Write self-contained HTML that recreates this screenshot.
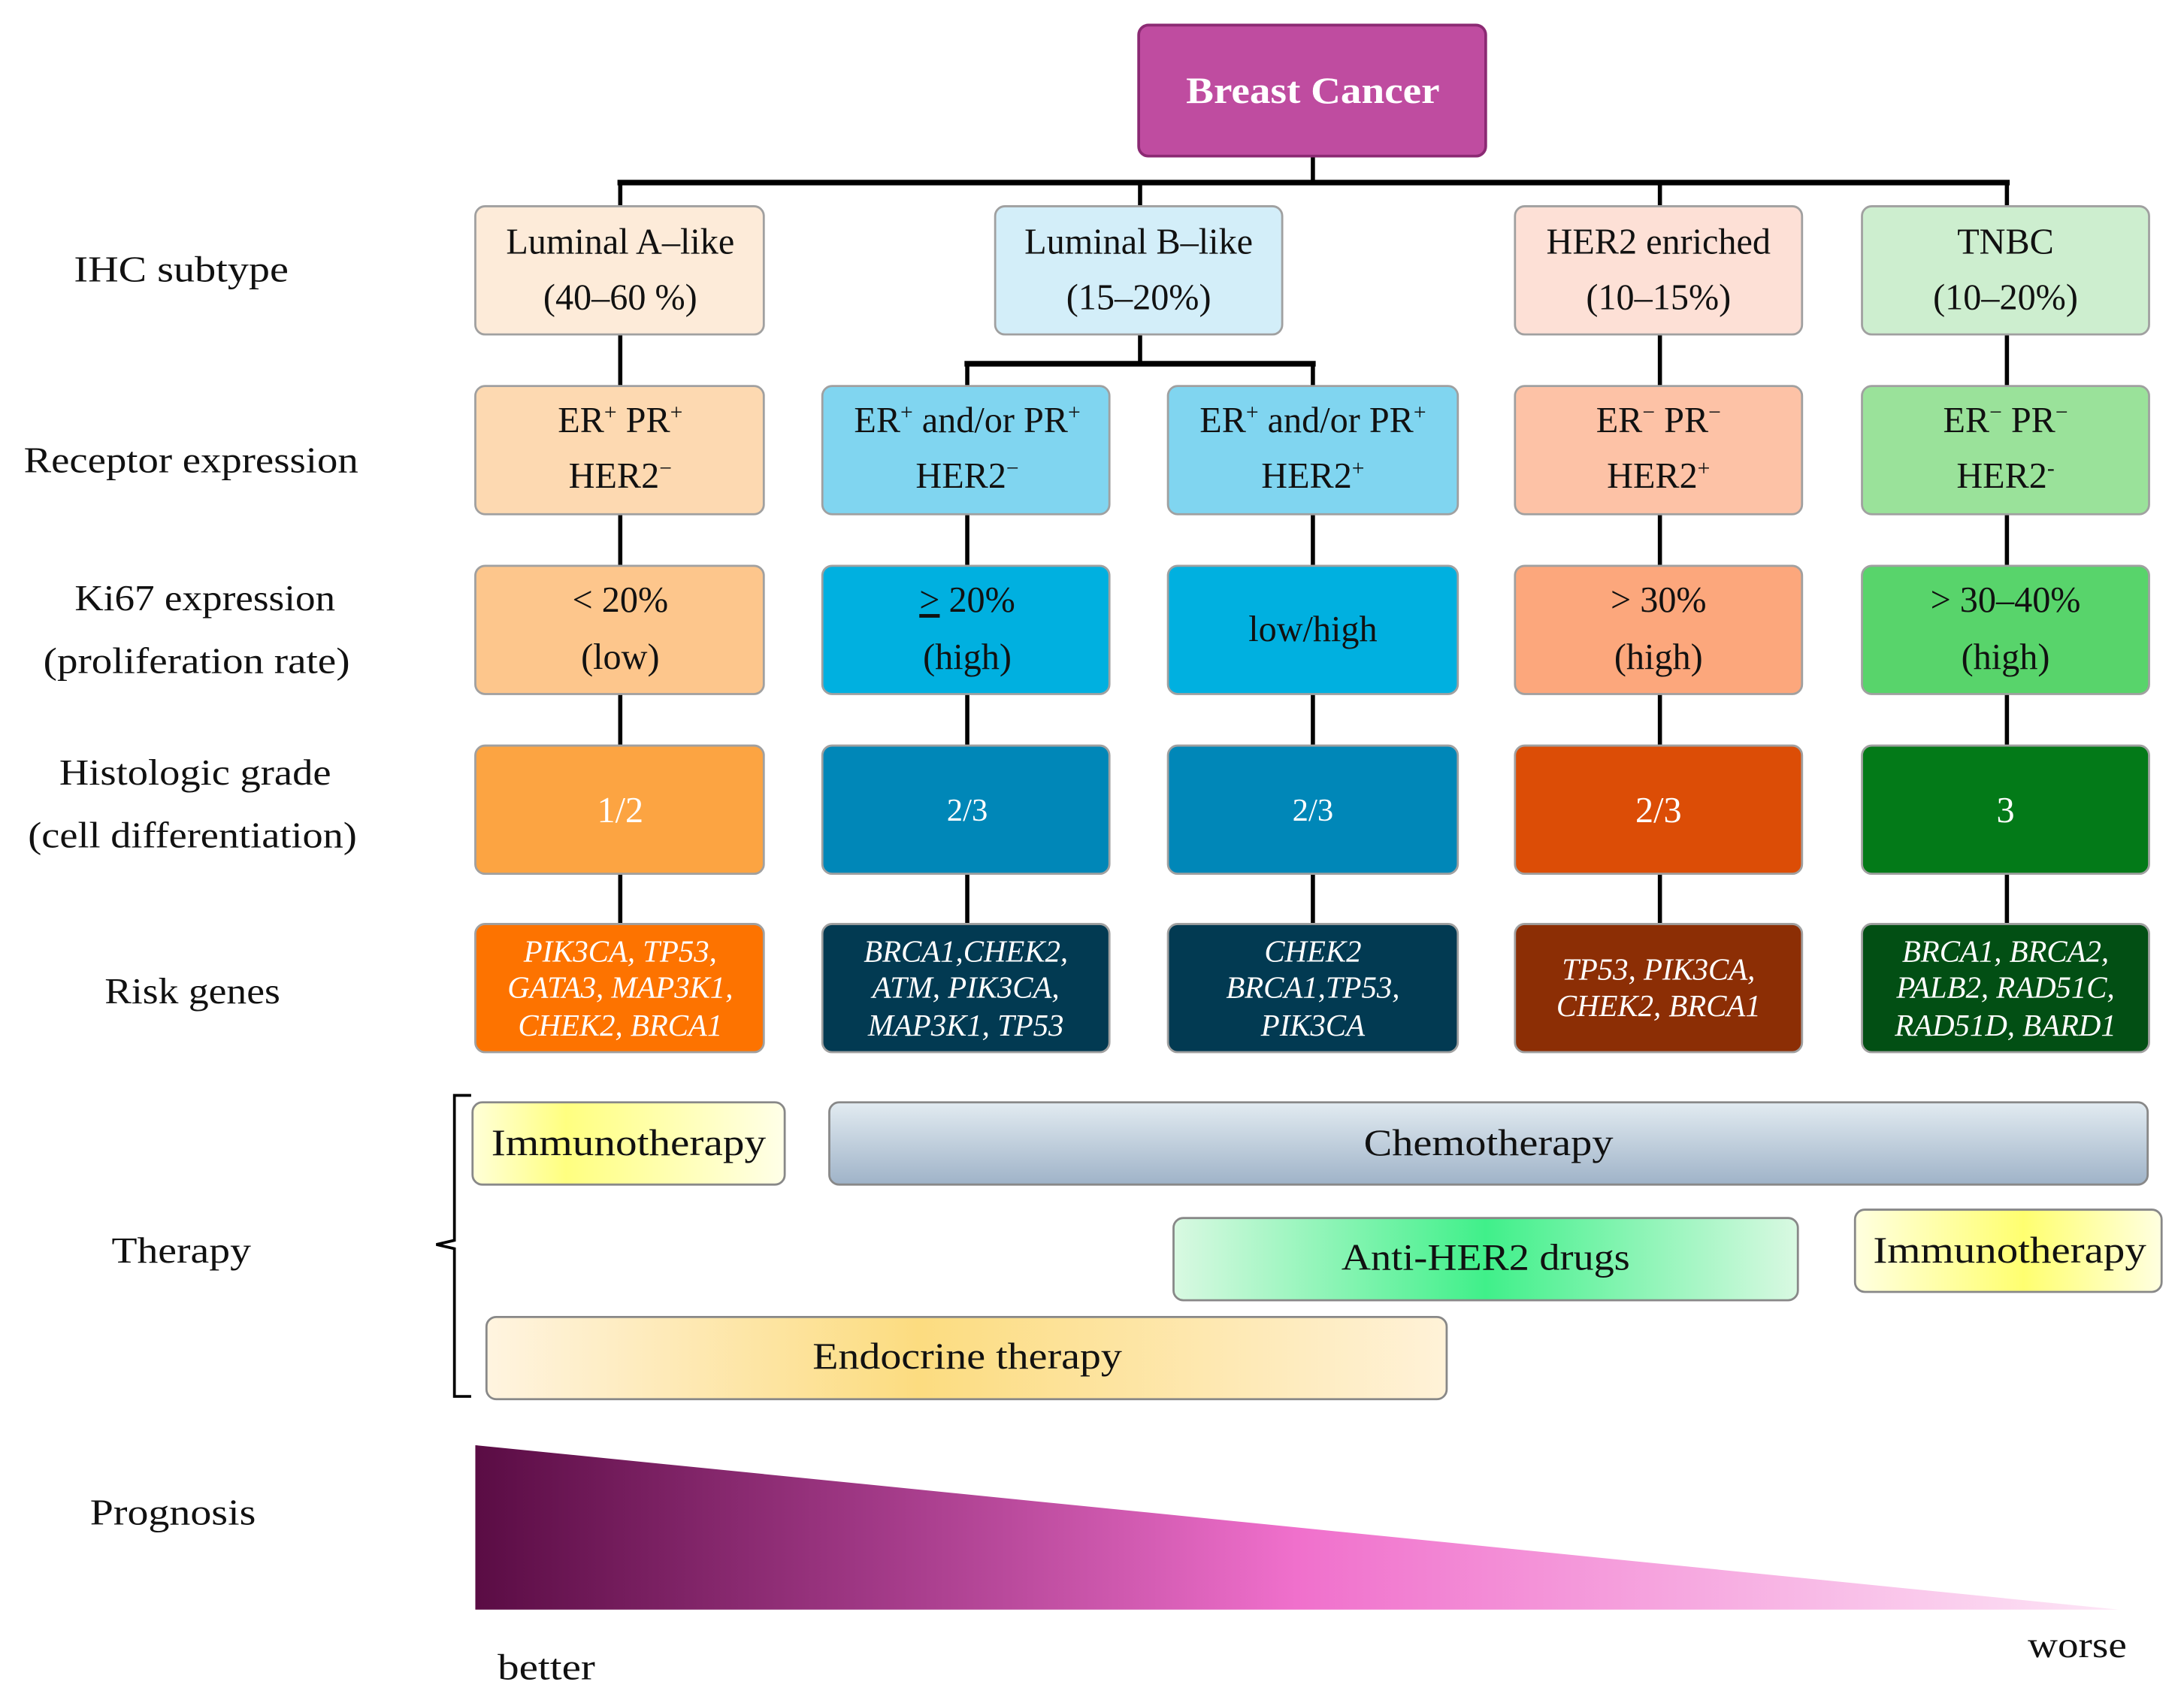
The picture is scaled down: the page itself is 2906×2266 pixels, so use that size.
<!DOCTYPE html>
<html><head><meta charset="utf-8"><style>
html,body{margin:0;padding:0;background:#fff}
svg{display:block}
text{font-family:"Liberation Serif",serif;fill:#111}
</style></head><body>
<svg width="2906" height="2266" viewBox="0 0 1567 1222" xmlns="http://www.w3.org/2000/svg">
<defs>
<linearGradient id="imm" x1="0" x2="1"><stop offset="0" stop-color="#ffffd8"/><stop offset="0.3" stop-color="#ffff80"/><stop offset="1" stop-color="#ffffe8"/></linearGradient>
<linearGradient id="imm2" x1="0" x2="1"><stop offset="0" stop-color="#ffffe0"/><stop offset="0.55" stop-color="#ffff70"/><stop offset="1" stop-color="#ffffe0"/></linearGradient>
<linearGradient id="chemo" x1="0" y1="0" x2="0" y2="1"><stop offset="0" stop-color="#e2ebf1"/><stop offset="1" stop-color="#9fb3c8"/></linearGradient>
<linearGradient id="her" x1="0" x2="1"><stop offset="0" stop-color="#d9f9e2"/><stop offset="0.5" stop-color="#40f08a"/><stop offset="1" stop-color="#d9f9e2"/></linearGradient>
<linearGradient id="endo" x1="0" x2="1"><stop offset="0" stop-color="#fff4e0"/><stop offset="0.45" stop-color="#fcdc80"/><stop offset="1" stop-color="#fff2d8"/></linearGradient>
<linearGradient id="prog" x1="0" x2="1"><stop offset="0" stop-color="#5a0c44"/><stop offset="0.25" stop-color="#a33a88"/><stop offset="0.5" stop-color="#f070cc"/><stop offset="1" stop-color="#fde6f6"/></linearGradient>
</defs>

<g stroke="#000" stroke-width="3" fill="none">
<line x1="942" y1="112" x2="942" y2="131"/>
<line x1="443" y1="131" x2="1442" y2="131" stroke-width="4"/>
<line x1="445" y1="131" x2="445" y2="148"/>
<line x1="818" y1="131" x2="818" y2="148"/>
<line x1="1191" y1="131" x2="1191" y2="148"/>
<line x1="1440" y1="131" x2="1440" y2="148"/>
<line x1="818" y1="240" x2="818" y2="261"/>
<line x1="692" y1="261" x2="944" y2="261" stroke-width="4"/>
<line x1="694" y1="261" x2="694" y2="277"/>
<line x1="942" y1="261" x2="942" y2="277"/>
<line x1="445" y1="240" x2="445" y2="277"/>
<line x1="1191" y1="240" x2="1191" y2="277"/>
<line x1="1440" y1="240" x2="1440" y2="277"/>
<line x1="445" y1="369" x2="445" y2="663"/>
<line x1="694" y1="369" x2="694" y2="663"/>
<line x1="942" y1="369" x2="942" y2="663"/>
<line x1="1191" y1="369" x2="1191" y2="663"/>
<line x1="1440" y1="369" x2="1440" y2="663"/>
</g>

<rect x="817" y="18" width="249" height="94" rx="7" fill="#bf4ca0" stroke="#8b2a73" stroke-width="2"/>
<text x="942" y="74" text-anchor="middle" font-size="27" font-weight="bold" textLength="182" lengthAdjust="spacingAndGlyphs" style="fill:#fff">Breast Cancer</text>

<g stroke="#a0a0a0" stroke-width="1.5">
<rect x="341" y="148" width="207" height="92" rx="7" fill="#fdebd9"/>
<rect x="714" y="148" width="206" height="92" rx="7" fill="#d3eef9"/>
<rect x="1087" y="148" width="206" height="92" rx="7" fill="#fde0d6"/>
<rect x="1336" y="148" width="206" height="92" rx="7" fill="#cdeecf"/>
<rect x="341" y="277" width="207" height="92" rx="7" fill="#fdd9b1"/>
<rect x="590" y="277" width="206" height="92" rx="7" fill="#80d5f0"/>
<rect x="838" y="277" width="208" height="92" rx="7" fill="#80d5f0"/>
<rect x="1087" y="277" width="206" height="92" rx="7" fill="#fdc2a6"/>
<rect x="1336" y="277" width="206" height="92" rx="7" fill="#9ae29a"/>
<rect x="341" y="406" width="207" height="92" rx="7" fill="#fdc68c"/>
<rect x="590" y="406" width="206" height="92" rx="7" fill="#00b0e0"/>
<rect x="838" y="406" width="208" height="92" rx="7" fill="#00b0e0"/>
<rect x="1087" y="406" width="206" height="92" rx="7" fill="#fca77c"/>
<rect x="1336" y="406" width="206" height="92" rx="7" fill="#58d46b"/>
<rect x="341" y="535" width="207" height="92" rx="7" fill="#fca442"/>
<rect x="590" y="535" width="206" height="92" rx="7" fill="#0087b8"/>
<rect x="838" y="535" width="208" height="92" rx="7" fill="#0087b8"/>
<rect x="1087" y="535" width="206" height="92" rx="7" fill="#dc4d06"/>
<rect x="1336" y="535" width="206" height="92" rx="7" fill="#037a18"/>
<rect x="341" y="663" width="207" height="92" rx="7" fill="#fd7300"/>
<rect x="590" y="663" width="206" height="92" rx="7" fill="#023a52"/>
<rect x="838" y="663" width="208" height="92" rx="7" fill="#023a52"/>
<rect x="1087" y="663" width="206" height="92" rx="7" fill="#8c2e05"/>
<rect x="1336" y="663" width="206" height="92" rx="7" fill="#024f14"/>
</g>

<g font-size="26" text-anchor="middle">
<text x="445" y="182">Luminal A–like</text><text x="445" y="222">(40–60 %)</text>
<text x="817" y="182">Luminal B–like</text><text x="817" y="222">(15–20%)</text>
<text x="1190" y="182">HER2 enriched</text><text x="1190" y="222">(10–15%)</text>
<text x="1439" y="182">TNBC</text><text x="1439" y="222">(10–20%)</text>

<text x="445" y="310">ER<tspan font-size="16" dy="-9">+</tspan><tspan dy="9"> PR</tspan><tspan font-size="16" dy="-9">+</tspan></text>
<text x="445" y="350">HER2<tspan font-size="16" dy="-9">−</tspan></text>
<text x="694" y="310">ER<tspan font-size="16" dy="-9">+</tspan><tspan dy="9"> and/or PR</tspan><tspan font-size="16" dy="-9">+</tspan></text>
<text x="694" y="350">HER2<tspan font-size="16" dy="-9">−</tspan></text>
<text x="942" y="310">ER<tspan font-size="16" dy="-9">+</tspan><tspan dy="9"> and/or PR</tspan><tspan font-size="16" dy="-9">+</tspan></text>
<text x="942" y="350">HER2<tspan font-size="16" dy="-9">+</tspan></text>
<text x="1190" y="310">ER<tspan font-size="16" dy="-9">−</tspan><tspan dy="9"> PR</tspan><tspan font-size="16" dy="-9">−</tspan></text>
<text x="1190" y="350">HER2<tspan font-size="16" dy="-9">+</tspan></text>
<text x="1439" y="310">ER<tspan font-size="16" dy="-9">−</tspan><tspan dy="9"> PR</tspan><tspan font-size="16" dy="-9">−</tspan></text>
<text x="1439" y="350">HER2<tspan font-size="16" dy="-9">-</tspan></text>

<text x="445" y="439">&lt; 20%</text><text x="445" y="480">(low)</text>
<text x="694" y="439"><tspan text-decoration="underline">&gt;</tspan> 20%</text><text x="694" y="480">(high)</text>
<text x="942" y="460">low/high</text>
<text x="1190" y="439">&gt; 30%</text><text x="1190" y="480">(high)</text>
<text x="1439" y="439">&gt; 30–40%</text><text x="1439" y="480">(high)</text>
</g>

<g font-size="26" text-anchor="middle">
<text x="445" y="590" style="fill:#fff">1/2</text>
<text x="694" y="589" font-size="23" style="fill:#fff">2/3</text>
<text x="942" y="589" font-size="23" style="fill:#fff">2/3</text>
<text x="1190" y="590" style="fill:#fff">2/3</text>
<text x="1439" y="590" style="fill:#fff">3</text>
</g>

<g font-size="22" font-style="italic" text-anchor="middle">
<text x="445" y="690" style="fill:#fff">PIK3CA, TP53,</text>
<text x="445" y="716" style="fill:#fff">GATA3, MAP3K1,</text>
<text x="445" y="743" style="fill:#fff">CHEK2, BRCA1</text>
<text x="693" y="690" style="fill:#fff">BRCA1,CHEK2,</text>
<text x="693" y="716" style="fill:#fff">ATM, PIK3CA,</text>
<text x="693" y="743" style="fill:#fff">MAP3K1, TP53</text>
<text x="942" y="690" style="fill:#fff">CHEK2</text>
<text x="942" y="716" style="fill:#fff">BRCA1,TP53,</text>
<text x="942" y="743" style="fill:#fff">PIK3CA</text>
<text x="1190" y="703" style="fill:#fff">TP53, PIK3CA,</text>
<text x="1190" y="729" style="fill:#fff">CHEK2, BRCA1</text>
<text x="1439" y="690" style="fill:#fff">BRCA1, BRCA2,</text>
<text x="1439" y="716" style="fill:#fff">PALB2, RAD51C,</text>
<text x="1439" y="743" style="fill:#fff">RAD51D,  BARD1</text>
</g>

<g font-size="26" text-anchor="middle" lengthAdjust="spacingAndGlyphs">
<text x="130" y="202" textLength="154" lengthAdjust="spacingAndGlyphs">IHC subtype</text>
<text x="137" y="339" textLength="240" lengthAdjust="spacingAndGlyphs">Receptor expression</text>
<text x="147" y="438" textLength="187" lengthAdjust="spacingAndGlyphs">Ki67 expression</text>
<text x="141" y="483" textLength="220" lengthAdjust="spacingAndGlyphs">(proliferation rate)</text>
<text x="140" y="563" textLength="195" lengthAdjust="spacingAndGlyphs">Histologic grade</text>
<text x="138" y="608" textLength="236" lengthAdjust="spacingAndGlyphs">(cell differentiation)</text>
<text x="138" y="720" textLength="126" lengthAdjust="spacingAndGlyphs">Risk genes</text>
<text x="130" y="906" textLength="100" lengthAdjust="spacingAndGlyphs">Therapy</text>
<text x="124" y="1094" textLength="119" lengthAdjust="spacingAndGlyphs">Prognosis</text>
</g>

<path d="M338 786 L326 786 L326 890 L313 893 L326 896 L326 1002 L338 1002" fill="none" stroke="#000" stroke-width="2"/>

<g stroke="#888" stroke-width="1.5">
<rect x="339" y="791" width="224" height="59" rx="7" fill="url(#imm)"/>
<rect x="595" y="791" width="946" height="59" rx="7" fill="url(#chemo)"/>
<rect x="842" y="874" width="448" height="59" rx="7" fill="url(#her)"/>
<rect x="1331" y="868" width="220" height="59" rx="7" fill="url(#imm2)"/>
<rect x="349" y="945" width="689" height="59" rx="7" fill="url(#endo)"/>
</g>
<g font-size="27" text-anchor="middle">
<text x="451" y="829" textLength="197" lengthAdjust="spacingAndGlyphs">Immunotherapy</text>
<text x="1068" y="829" textLength="179" lengthAdjust="spacingAndGlyphs">Chemotherapy</text>
<text x="1066" y="911" textLength="207" lengthAdjust="spacingAndGlyphs">Anti-HER2 drugs</text>
<text x="1442" y="906" textLength="196" lengthAdjust="spacingAndGlyphs">Immunotherapy</text>
<text x="694" y="982" textLength="222" lengthAdjust="spacingAndGlyphs">Endocrine therapy</text>
</g>

<polygon points="341,1037 341,1155 1520,1155" fill="url(#prog)"/>
<text x="357" y="1205" font-size="26" textLength="70" lengthAdjust="spacingAndGlyphs">better</text>
<text x="1455" y="1189" font-size="26" textLength="71" lengthAdjust="spacingAndGlyphs">worse</text>
</svg>
</body></html>
